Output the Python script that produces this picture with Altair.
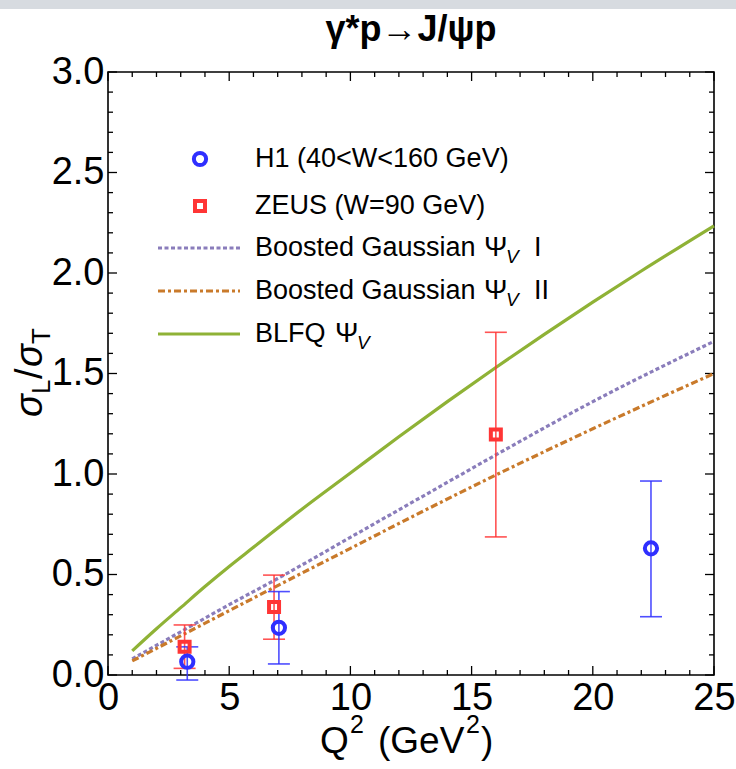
import altair as alt
import pandas as pd

# ---------------- data ----------------
h1_q = [3.27, 7.05, 22.4]
h1_r = [0.066, 0.235, 0.63]
h1_lo = [-0.025, 0.055, 0.29]
h1_hi = [0.14, 0.415, 0.965]

zeus_q = [3.16, 6.85, 16.0]
zeus_r = [0.14, 0.338, 1.197]
zeus_lo = [0.033, 0.178, 0.687]
zeus_hi = [0.249, 0.497, 1.705]

bg1_q = [1, 3, 5, 7, 10, 13, 16, 20, 25]
bg1_r = [0.08, 0.215, 0.35, 0.48, 0.685, 0.89, 1.095, 1.36, 1.66]

bg2_q = [1, 3, 5, 7, 10, 13, 16, 20, 25]
bg2_r = [0.07, 0.195, 0.32, 0.445, 0.63, 0.815, 0.995, 1.225, 1.50]

blfq_q = [1, 2, 3, 4, 5, 6, 8, 10, 12, 14, 16, 18, 20, 22, 25]
blfq_r = [0.12, 0.23, 0.335, 0.44, 0.54, 0.635, 0.825, 1.005, 1.185, 1.36,
          1.53, 1.695, 1.855, 2.01, 2.235]

x_major = [0, 5, 10, 15, 20, 25]
x_minor = [v for v in range(0, 26) if v % 5 != 0]
y_major = [0.0, 0.5, 1.0, 1.5, 2.0, 2.5, 3.0]
y_minor = [round(v / 10, 1) for v in range(0, 31) if v % 5 != 0]

# ---------------- style ----------------
W, H = 606, 603
FONT = "Liberation Sans"
BLUE = "#2f2fff"
RED = "#ff3535"
PURPLE = "#8a7dbb"
ORANGE = "#c97a2b"
GREEN = "#8fb236"

xs = alt.Scale(domain=[0, 25], nice=False, zero=False)
ys = alt.Scale(domain=[0, 3], nice=False, zero=False)

X_AXIS = alt.Axis(values=x_major, format="d", labelFont=FONT, labelFontSize=38,
                  labelColor="black", labelPadding=4, ticks=False, domain=False,
                  grid=False, labelFlush=False, labelOverlap=False, title=None)
Y_AXIS = alt.Axis(values=y_major, format=".1f", labelFont=FONT, labelFontSize=38,
                  labelColor="black", labelPadding=4, ticks=False, domain=False,
                  grid=False, labelFlush=False, labelOverlap=False, title=None)


def X(f):
    return alt.X(f"{f}:Q", scale=xs, axis=X_AXIS, title=None)


def Y(f):
    return alt.Y(f"{f}:Q", scale=ys, axis=Y_AXIS, title=None)


one = pd.DataFrame({"a": [0]})


def txt(s, x, y, size, **kw):
    kw.setdefault("color", "black")
    return alt.Chart(one).mark_text(text=s, font=FONT, fontSize=size, **kw).encode(
        x=alt.value(x), y=alt.value(y))


layers = []

# gray strip at top
layers.append(alt.Chart(one).mark_rect(color="#d7dbe0").encode(
    x=alt.value(-108), x2=alt.value(628), y=alt.value(-72), y2=alt.value(-63)))

# inward ticks
xt_major = pd.DataFrame({"t": x_major})
xt_minor = pd.DataFrame({"t": x_minor})
yt_major = pd.DataFrame({"t": y_major})
yt_minor = pd.DataFrame({"t": y_minor})
for df, ln in [(xt_major, 9), (xt_minor, 5)]:
    layers.append(alt.Chart(df).mark_rule(color="black", strokeWidth=1.3).encode(
        x=X("t"), y=alt.value(H), y2=alt.value(H - ln)))
    layers.append(alt.Chart(df).mark_rule(color="black", strokeWidth=1.3).encode(
        x=X("t"), y=alt.value(0), y2=alt.value(ln)))
for df, ln in [(yt_major, 9), (yt_minor, 5)]:
    layers.append(alt.Chart(df).mark_rule(color="black", strokeWidth=1.3).encode(
        y=Y("t"), x=alt.value(0), x2=alt.value(ln)))
    layers.append(alt.Chart(df).mark_rule(color="black", strokeWidth=1.3).encode(
        y=Y("t"), x=alt.value(W), x2=alt.value(W - ln)))

# curves
bg1 = pd.DataFrame({"q": bg1_q, "r": bg1_r})
bg2 = pd.DataFrame({"q": bg2_q, "r": bg2_r})
blfq = pd.DataFrame({"q": blfq_q, "r": blfq_r})
layers.append(alt.Chart(blfq).mark_line(color=GREEN, strokeWidth=3.2, interpolate="monotone").encode(
    x=X("q"), y=Y("r")))
layers.append(alt.Chart(bg1).mark_line(color=PURPLE, strokeWidth=3.2, strokeDash=[4, 2.5],
                                       interpolate="monotone").encode(x=X("q"), y=Y("r")))
layers.append(alt.Chart(bg2).mark_line(color=ORANGE, strokeWidth=3.2, strokeDash=[7, 3, 3, 3],
                                       interpolate="monotone").encode(x=X("q"), y=Y("r")))

# data points with error bars
h1 = pd.DataFrame({"q": h1_q, "r": h1_r, "lo": h1_lo, "hi": h1_hi})
zeus = pd.DataFrame({"q": zeus_q, "r": zeus_r, "lo": zeus_lo, "hi": zeus_hi})
for df, col in [(zeus, RED), (h1, BLUE)]:
    layers.append(alt.Chart(df).mark_rule(color=col, strokeWidth=1.6, opacity=0.85).encode(
        x=X("q"), y=Y("lo"), y2="hi:Q"))
    layers.append(alt.Chart(df).mark_tick(color=col, orient="horizontal", size=22,
                                          thickness=1.6, opacity=0.85).encode(x=X("q"), y=Y("lo")))
    layers.append(alt.Chart(df).mark_tick(color=col, orient="horizontal", size=22,
                                          thickness=1.6, opacity=0.85).encode(x=X("q"), y=Y("hi")))
layers.append(alt.Chart(zeus).mark_point(shape="square", filled=False, color=RED,
                                         strokeWidth=4, size=100, opacity=1).encode(x=X("q"), y=Y("r")))
layers.append(alt.Chart(h1).mark_point(shape="circle", filled=False, color=BLUE,
                                       strokeWidth=4, size=150, opacity=1).encode(x=X("q"), y=Y("r")))

# legend
rows = [87, 134, 176, 219, 262]
layers.append(alt.Chart(one).mark_point(shape="circle", filled=False, color=BLUE, strokeWidth=4,
                                        size=150, opacity=1).encode(x=alt.value(92), y=alt.value(rows[0])))
layers.append(alt.Chart(one).mark_point(shape="square", filled=False, color=RED, strokeWidth=4,
                                        size=100, opacity=1).encode(x=alt.value(92), y=alt.value(rows[1])))
for yy, col, dash in [(rows[2], PURPLE, [4, 2.5]), (rows[3], ORANGE, [7, 3, 3, 3]), (rows[4], GREEN, None)]:
    kw = dict(color=col, strokeWidth=3.2)
    if dash:
        kw["strokeDash"] = dash
    layers.append(alt.Chart(one).mark_rule(**kw).encode(
        x=alt.value(50), x2=alt.value(132), y=alt.value(yy)))

LX = 147
LS = 27
layers.append(txt("H1 (40<W<160 GeV)", LX, rows[0], LS, align="left", baseline="middle"))
layers.append(txt("ZEUS (W=90 GeV)", LX, rows[1], LS, align="left", baseline="middle"))
for yy, tail in [(rows[2], "I"), (rows[3], "II")]:
    layers.append(txt("Boosted Gaussian", LX, yy, LS, align="left", baseline="middle"))
    layers.append(txt("Ψ", 376, yy, 28, align="left", baseline="middle"))
    layers.append(txt("V", 398, yy + 9, 19, align="left", baseline="middle", fontStyle="italic"))
    layers.append(txt(tail, 426, yy, LS, align="left", baseline="middle"))
layers.append(txt("BLFQ", LX, rows[4], LS, align="left", baseline="middle"))
layers.append(txt("Ψ", 227, rows[4], 28, align="left", baseline="middle"))
layers.append(txt("V", 249, rows[4] + 9, 19, align="left", baseline="middle", fontStyle="italic"))

# title
layers.append(txt("γ*p→J/ψp", 303, -42, 36, fontWeight="bold", align="center", baseline="middle"))

# x-axis title pieces
XB = 681
layers.append(txt("Q", 212, XB, 37, align="left", baseline="alphabetic"))
layers.append(txt("2", 242, XB - 20, 25, align="left", baseline="alphabetic"))
layers.append(txt("(GeV", 270, XB, 37, align="left", baseline="alphabetic"))
layers.append(txt("2", 358, XB - 20, 25, align="left", baseline="alphabetic"))
layers.append(txt(")", 373, XB, 37, align="left", baseline="alphabetic"))

# y-axis title pieces (rotated)
b0 = 345
layers.append(txt("σ", -66, b0, 38, angle=270, align="left", baseline="alphabetic", fontStyle="italic"))
layers.append(txt("L", -58, b0 - 23, 26, angle=270, align="left", baseline="alphabetic"))
layers.append(txt("/", -66, b0 - 38, 38, angle=270, align="left", baseline="alphabetic"))
layers.append(txt("σ", -66, b0 - 50, 38, angle=270, align="left", baseline="alphabetic", fontStyle="italic"))
layers.append(txt("T", -58, b0 - 73, 26, angle=270, align="left", baseline="alphabetic"))

chart = alt.layer(*layers).properties(
    width=W, height=H,
    autosize=alt.AutoSizeParams(type="none"),
    padding={"left": 108, "top": 72, "right": 22, "bottom": 94},
    background="white",
).configure_view(stroke="black", strokeWidth=1.6)

chart.save("out.html", embed_options={"renderer": "svg", "actions": False})
